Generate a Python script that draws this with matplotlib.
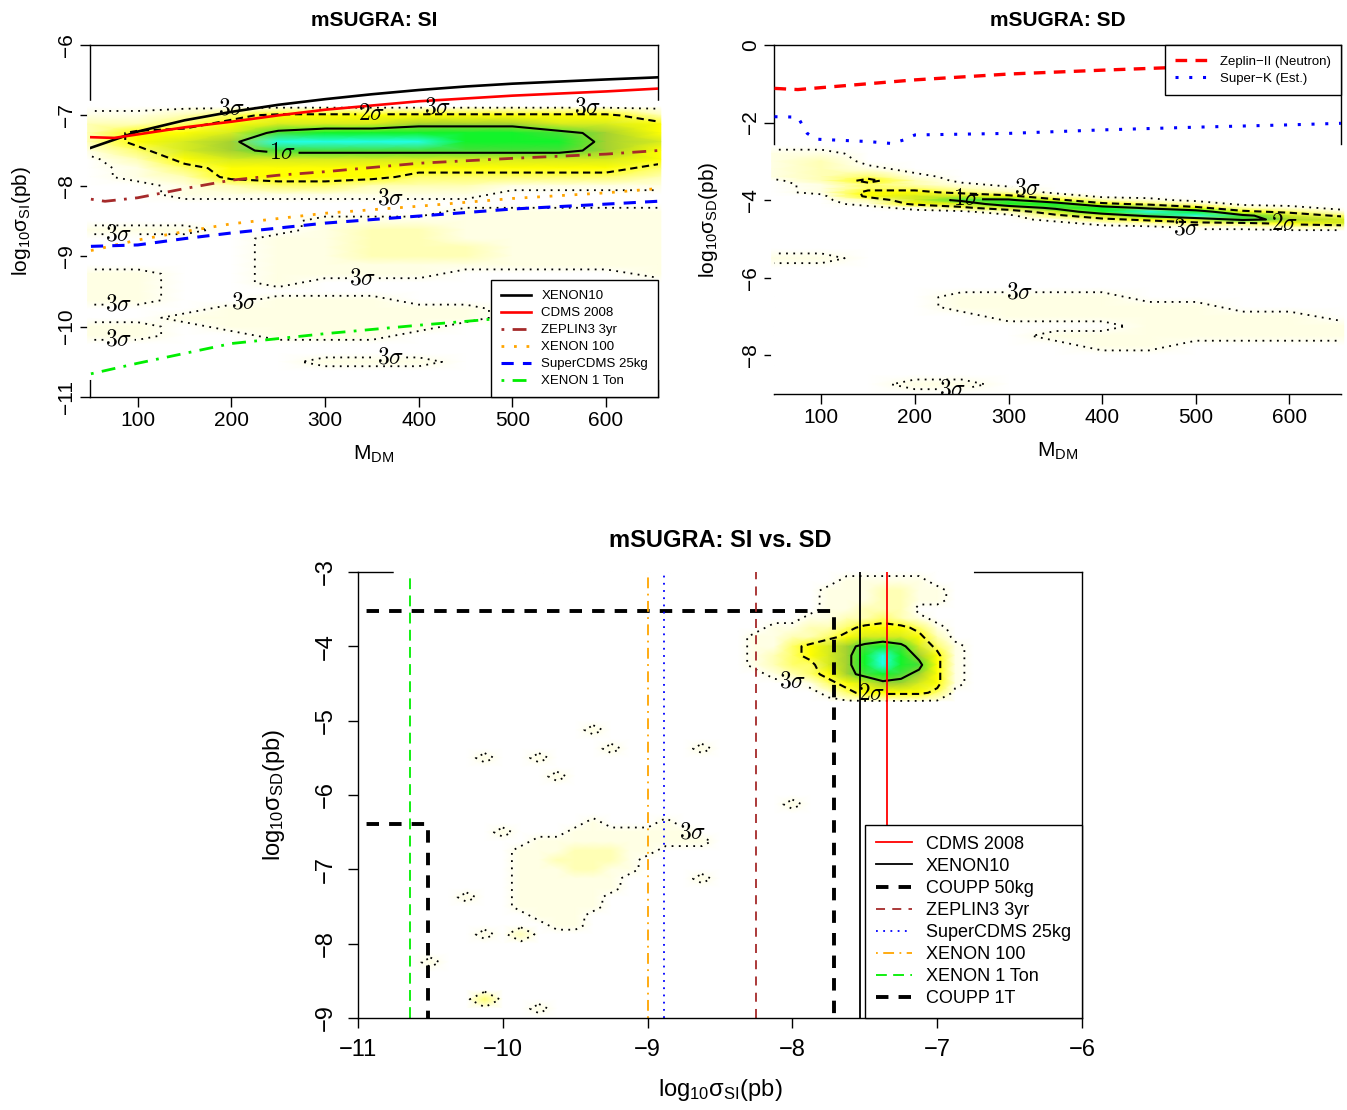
import numpy as np
import matplotlib
matplotlib.use('Agg')
import matplotlib.pyplot as plt
from matplotlib.colors import LinearSegmentedColormap

plt.rcParams['font.family'] = ['Liberation Sans', 'DejaVu Sans']
plt.rcParams['mathtext.fontset'] = 'cm'
plt.rcParams['mathtext.rm'] = 'Liberation Sans'
plt.rcParams['mathtext.it'] = 'Liberation Sans:italic'
plt.rcParams['mathtext.bf'] = 'Liberation Sans:bold'

# ---------------- limit curves, SI vs M_DM ----------------
XENON10_M = [50, 100, 150, 200, 250, 300, 350, 400, 450, 500, 550, 600, 655]
XENON10_SI = [-7.46, -7.23, -7.07, -6.95, -6.85, -6.77, -6.70, -6.64, -6.59, -6.55, -6.52, -6.49, -6.46]
CDMS_M = [50, 75, 100, 150, 200, 250, 300, 350, 400, 450, 500, 550, 600, 655]
CDMS_SI = [-7.31, -7.32, -7.27, -7.17, -7.09, -7.0, -6.92, -6.86, -6.8, -6.76, -6.72, -6.69, -6.66, -6.62]
ZEPLIN3_M = [50, 65, 100, 150, 200, 250, 300, 350, 400, 500, 600, 655]
ZEPLIN3_SI = [-8.19, -8.22, -8.17, -8.04, -7.92, -7.85, -7.8, -7.74, -7.68, -7.61, -7.55, -7.5]
XENON100_M = [50, 100, 150, 200, 300, 400, 500, 600, 655]
XENON100_SI = [-8.92, -8.77, -8.65, -8.54, -8.39, -8.29, -8.18, -8.1, -8.04]
SCDMS_M = [50, 100, 150, 200, 300, 400, 500, 600, 655]
SCDMS_SI = [-8.86, -8.84, -8.75, -8.67, -8.53, -8.43, -8.33, -8.26, -8.22]
XENON1T_M = [50, 100, 200, 300, 400, 500, 600, 655]
XENON1T_SI = [-10.67, -10.52, -10.24, -10.1, -9.98, -9.87, -9.78, -9.74]

# ---------------- limit curves, SD vs M_DM ----------------
ZEPLIN2_M = [50, 75, 100, 200, 300, 400, 500, 600, 655]
ZEPLIN2_SD = [-1.12, -1.15, -1.1, -0.9, -0.75, -0.65, -0.56, -0.48, -0.44]
SUPERK_M = [50, 75, 85, 95, 150, 175, 188, 200, 300, 400, 500, 600, 655]
SUPERK_SD = [-1.85, -1.86, -2.28, -2.43, -2.49, -2.54, -2.45, -2.32, -2.28, -2.19, -2.12, -2.06, -2.02]

# ---------------- limits in the SI-SD plane ----------------
CDMS_SI_LIM = -7.35
XENON10_SI_LIM = -7.53
COUPP50_SI, COUPP50_SD = -7.71, -3.52
ZEPLIN3_SI_LIM = -8.25
SCDMS_SI_LIM = -8.89
XENON100_SI_LIM = -9.0
XENON1T_SI_LIM = -10.64
COUPP1T_SI, COUPP1T_SD = -10.52, -6.39

# ---------------- posterior density (levels 0-9) ----------------
SI_GRID_M = [50, 100, 150, 200, 250, 300, 350, 400, 450, 500, 550, 600, 650]
SI_GRID_Y = [-6.8, -6.875, -7.0, -7.125, -7.25, -7.375, -7.5, -7.625, -7.75, -7.875,
             -8.0, -8.125, -8.25, -8.375, -8.5, -8.625, -8.75, -8.875, -9.0, -9.125,
             -9.25, -9.375, -9.5, -9.625, -9.75, -9.875, -10.0, -10.125, -10.25,
             -10.375, -10.5, -10.625, -10.75]
SI_GRID = [
    "0000000000000", "0000000000000", "1123444444442", "2234555666554",
    "2445788888764", "2456999988865", "1356777777764", "0245555555554",
    "0134444444443", "0124444333332", "0012332221111", "0011111110000",
    "0000000000000", "0000000011111", "0000011111111", "1110012211111",
    "0000112211111", "0000112221111", "0000112221111", "0000111111111",
    "1100111100001", "1100100000000", "1100000000000", "1100111000000",
    "0001111110000", "0011111110000", "1101111100000", "1100111000000",
    "0000000000000", "0000000000000", "0000011100000", "0000000000000",
    "0000000000000",
]

SD_GRID_M = SI_GRID_M
SD_GRID_Y = [-2.6, -2.8, -3.0, -3.2, -3.4, -3.5, -3.6, -3.7, -3.8, -3.9, -4.0, -4.1,
             -4.2, -4.3, -4.4, -4.5, -4.6, -4.7, -4.8, -5.0, -5.25, -5.5, -5.75, -6.0,
             -6.25, -6.5, -6.75, -7.0, -7.25, -7.5, -7.75, -8.0, -8.25, -8.5, -8.75, -9.0]
SD_GRID = [
    "0000000000000", "1100000000000", "1200000000000", "1210000000000",
    "1231000000000", "0242000000000", "0132100000000", "0133210000000",
    "0144320000000", "0045542000000", "0025774210000", "0014588432000",
    "0001357864210", "0000025898431", "0000003579753", "0000001345765",
    "0000000123345", "0000000001122", "0000000000000", "0000000000000",
    "0000000000000", "1100000000000", "0000000000000", "0000000000000",
    "0000000000000", "0000111100000", "0000111111000", "0000011111110",
    "0000000011111", "0000001111111", "0000000110000", "0000000000000",
    "0000000000000", "0000000000000", "0001100000000", "0000000000000",
]

# SI-SD plane: lattice step 0.125, main peak and tail patches plus isolated specks
PEAK_LEFT, PEAK_TOP = -8.375, -3.0
PEAK_ROWS = [
    "00000000000000", "00000011111000", "00000111221100", "00000111221100",
    "00000112220000", "00001122321000", "00112234443100", "01122345554200",
    "01134567875310", "01234568986410", "01233568987410", "00123467876410",
    "00001345665410", "00000134444300", "00000000000000", "00000000000000",
]
TAIL_LEFT, TAIL_TOP = -10.125, -6.25
TAIL_ROWS = [
    "00000000000000", "00000010001000", "00000111111100", "00011111111110",
    "00111222110000", "00112222100000", "00111221100000", "00111111000000",
    "00111111000000", "00111110000000", "00111110000000", "00011100000000",
    "00001100000000", "00000000000000", "00000000000000",
]
SPECK_SI = [-10.125, -9.75, -9.375, -9.25, -9.625, -8.625, -10.0, -10.25, -10.125,
            -9.875, -10.5, -10.125, -9.75, -8.625, -8.0]
SPECK_SD = [-5.5, -5.5, -5.125, -5.375, -5.75, -5.375, -6.5, -7.375, -7.875,
            -7.875, -8.25, -8.75, -8.875, -7.125, -6.125]
SPECK_LEVEL = [1, 1, 1, 1, 1, 1, 1, 1, 1, 2, 1, 3, 1, 1, 1]

SIGMA_TEXT = {0.5: r'$3\sigma$', 3.5: r'$2\sigma$', 6.5: r'$1\sigma$'}

DENS_CMAP = LinearSegmentedColormap.from_list('dens', [
    (0.0, '#FFFFFF'), (1 / 9, '#FFFFE4'), (2 / 9, '#FFFFB4'), (3 / 9, '#FFFF6A'),
    (4 / 9, '#FFFF00'), (5 / 9, '#D8EC20'), (6 / 9, '#A4D232'), (7 / 9, '#48E038'),
    (8 / 9, '#12F428'), (1.0, '#22FFE8')])


def grid_from_strings(rows):
    return np.array([[int(c) for c in r] for r in rows], dtype=float)


def draw_density(ax, gx, gy, z, label_spots):
    mesh = ax.pcolormesh(gx, gy, z, shading='gouraud', cmap=DENS_CMAP,
                         vmin=0, vmax=9, zorder=3)
    mesh.set_clip_on(False)
    cs = ax.contour(gx, gy, z, levels=[0.5, 3.5, 6.5], colors='black',
                    linestyles=[(0, (1, 3)), (0, (3.5, 2.2)), 'solid'],
                    linewidths=[1.3, 1.5, 1.5], zorder=4)
    labs = ax.clabel(cs, fmt=SIGMA_TEXT, fontsize=17, inline=True,
                     inline_spacing=2, manual=label_spots)
    for t in labs:
        t.set_zorder(4.5)
        t.set_rotation(0)
    return cs


def r_style(ax, size, pad=3):
    ax.tick_params(direction='out', length=7, width=1, labelsize=size, pad=pad)
    ax.tick_params(axis='y', labelrotation=90)
    for lab in ax.get_yticklabels():
        lab.set_verticalalignment('center')
    for s in ax.spines.values():
        s.set_linewidth(1)
    ax.spines['bottom'].set_zorder(6)


def r_legend(ax, loc, size, **kw):
    leg = ax.legend(loc=loc, bbox_to_anchor=(1, 0) if 'lower' in loc else (1, 1),
                    borderaxespad=0, fancybox=False, framealpha=1,
                    edgecolor='black', fontsize=size, **kw)
    leg.get_frame().set_linewidth(1)
    leg.set_zorder(7)
    return leg


def lab(s):
    return r'$\mathregular{' + s + '}$'


fig = plt.figure(figsize=(13.47, 11.10), dpi=100)
ax1 = fig.add_axes([0.0668, 0.6423, 0.4217, 0.3172])
ax2 = fig.add_axes([0.5746, 0.6450, 0.4209, 0.3145])
ax3 = fig.add_axes([0.2658, 0.0829, 0.5375, 0.4018])

# ---------------- panel 1: SI ----------------
ax1.set_xlim(49, 655.5)
ax1.set_ylim(-11, -6)
gx = np.array(SI_GRID_M, float)
gx[0], gx[-1] = 46.5, 658.5
draw_density(ax1, gx, np.array(SI_GRID_Y), grid_from_strings(SI_GRID),
             [(200, -6.92), (420, -6.9), (580, -6.9), (350, -7.0), (255, -7.52),
              (370, -8.2), (80, -8.68), (340, -9.3), (80, -9.55), (80, -10.2),
              (215, -9.68), (370, -10.45)])
ax1.plot(XENON10_M, XENON10_SI, color='black', lw=1.9, label='XENON10', zorder=4)
ax1.plot(CDMS_M, CDMS_SI, color='red', lw=1.9, label='CDMS 2008', zorder=4)
ax1.plot(ZEPLIN3_M, ZEPLIN3_SI, color='#A52A2A', lw=2, ls=(0, (1, 3, 5, 3)),
         label='ZEPLIN3 3yr', zorder=4)
ax1.plot(XENON100_M, XENON100_SI, color='orange', lw=2, ls=(0, (1, 3.5)),
         label='XENON 100', zorder=4)
ax1.plot(SCDMS_M, SCDMS_SI, color='blue', lw=2.2, ls=(0, (4, 3)),
         label='SuperCDMS 25kg', zorder=4)
ax1.plot(XENON1T_M, XENON1T_SI, color='#00EE00', lw=2, ls=(0, (1, 3, 5, 3)),
         label='XENON 1 Ton', zorder=4)
ax1.set_xticks([100, 200, 300, 400, 500, 600])
ax1.set_yticks([-11, -10, -9, -8, -7, -6])
r_style(ax1, 15)
ax1.set_title('mSUGRA: SI', fontsize=15, fontweight='bold', pad=14)
ax1.set_xlabel(lab('M_{DM}'), fontsize=15, labelpad=10, math_fontfamily='custom')
ax1.set_ylabel(lab(r'log_{10}\sigma_{SI}(pb)'), fontsize=15, labelpad=17,
               math_fontfamily='custom')
r_legend(ax1, 'lower right', 9.5, handlelength=2.3, handletextpad=0.75,
         labelspacing=0.36, borderpad=0.75)

# ---------------- panel 2: SD ----------------
ax2.set_xlim(49.5, 655)
ax2.set_ylim(-9, 0)
gx = np.array(SD_GRID_M, float)
gx[0], gx[-1] = 47, 658
draw_density(ax2, gx, np.array(SD_GRID_Y), grid_from_strings(SD_GRID),
             [(255, -4.0), (320, -3.8), (490, -4.72), (595, -4.62), (312, -6.45),
              (240, -8.8)])
ax2.plot(ZEPLIN2_M, ZEPLIN2_SD, color='red', lw=2.4, ls=(0, (3.5, 2.5)),
         label='Zeplin\u2212II (Neutron)', zorder=4)
ax2.plot(SUPERK_M, SUPERK_SD, color='blue', lw=2.2, ls=(0, (1, 3.5)),
         label='Super\u2212K (Est.)', zorder=4)
ax2.set_xticks([100, 200, 300, 400, 500, 600])
ax2.set_yticks([-8, -6, -4, -2, 0])
r_style(ax2, 15)
ax2.set_title('mSUGRA: SD', fontsize=15, fontweight='bold', pad=14)
ax2.set_xlabel(lab('M_{DM}'), fontsize=15, labelpad=10, math_fontfamily='custom')
ax2.set_ylabel(lab(r'log_{10}\sigma_{SD}(pb)'), fontsize=15, labelpad=15,
               math_fontfamily='custom')
r_legend(ax2, 'upper right', 9.5, handlelength=2.6, handletextpad=0.75,
         labelspacing=0.36, borderpad=0.8)

# ---------------- panel 3: SI vs SD ----------------
ax3.set_xlim(-11, -6)
ax3.set_ylim(-9, -3)
step = 0.125
bx = -10.75 + step * np.arange(33)
by = -3.0 - step * np.arange(49)
bz = np.zeros((by.size, bx.size))
for rows, left, top in [(PEAK_ROWS, PEAK_LEFT, PEAK_TOP), (TAIL_ROWS, TAIL_LEFT, TAIL_TOP)]:
    i0 = int(round((left - bx[0]) / step))
    j0 = int(round((by[0] - top) / step))
    block = grid_from_strings(rows)
    bz[j0:j0 + block.shape[0], i0:i0 + block.shape[1]] = block
for sx, sy, sv in zip(SPECK_SI, SPECK_SD, SPECK_LEVEL):
    bz[int(round((by[0] - sy) / step)), int(round((sx - bx[0]) / step))] = sv
by_draw = by.copy()
by_draw[0] = -2.985
draw_density(ax3, bx, by_draw, bz, [(-8.0, -4.45), (-7.45, -4.66), (-8.7, -6.55)])

ax3.axvline(CDMS_SI_LIM, color='red', lw=1.3, label='CDMS 2008', zorder=4)
ax3.axvline(XENON10_SI_LIM, color='black', lw=1.3, label='XENON10', zorder=4)
ax3.plot([-11.1, COUPP50_SI, COUPP50_SI], [COUPP50_SD, COUPP50_SD, -9.1],
         color='black', lw=2.8, ls=(0, (3.2, 2.6)), label='COUPP 50kg', zorder=4)
ax3.axvline(ZEPLIN3_SI_LIM, color='#A52A2A', lw=1.3, ls=(0, (5, 4)),
            label='ZEPLIN3 3yr', zorder=4)
ax3.axvline(SCDMS_SI_LIM, color='blue', lw=1.3, ls=(0, (1, 3)),
            label='SuperCDMS 25kg', zorder=4)
ax3.axvline(XENON100_SI_LIM, color='orange', lw=1.3, ls=(0, (1, 3, 6, 3)),
            label='XENON 100', zorder=4)
ax3.axvline(XENON1T_SI_LIM, color='#00EE00', lw=1.3, ls=(0, (6, 3.5)),
            label='XENON 1 Ton', zorder=4)
ax3.plot([-11.1, COUPP1T_SI, COUPP1T_SI], [COUPP1T_SD, COUPP1T_SD, -9.1],
         color='black', lw=2.8, ls=(0, (3.2, 2.6)), label='COUPP 1T', zorder=4)
ax3.set_xticks([-11, -10, -9, -8, -7, -6])
ax3.set_yticks([-9, -8, -7, -6, -5, -4, -3])
r_style(ax3, 17, pad=8)
ax3.set_title('mSUGRA: SI vs. SD', fontsize=17, fontweight='bold', pad=18)
ax3.set_xlabel(lab(r'log_{10}\sigma_{SI}(pb)'), fontsize=17, labelpad=12,
               math_fontfamily='custom')
ax3.set_ylabel(lab(r'log_{10}\sigma_{SD}(pb)'), fontsize=17, labelpad=20,
               math_fontfamily='custom')
r_legend(ax3, 'lower right', 13, handlelength=2.0, handletextpad=0.8,
         labelspacing=0.28, borderpad=0.6)

fig.savefig('out.png', dpi=100, facecolor='white')
